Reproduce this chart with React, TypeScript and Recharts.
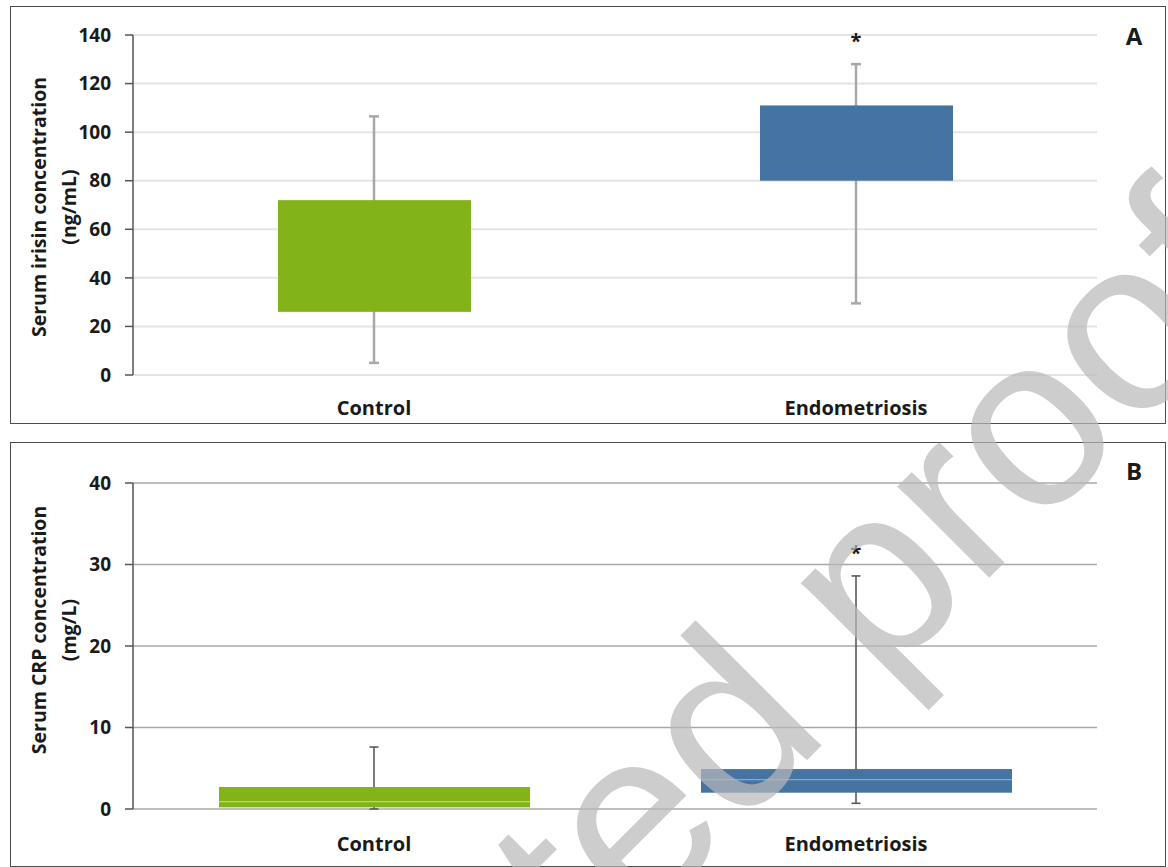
import React from "react";
import { BarChart, Bar, XAxis, YAxis, CartesianGrid, Cell } from "recharts";

// group names
const categories = ["Control", "Endometriosis"];

// panel A: serum irisin (ng/mL)
const irisinMin = [5, 29.5];
const irisinQ1 = [26, 80];
const irisinQ3 = [72, 111];
const irisinMax = [106.5, 128];
const irisinSig = ["", "*"];
const irisinTicks = [0, 20, 40, 60, 80, 100, 120, 140];

// panel B: serum CRP (mg/L)
const crpMin = [0, 0.7];
const crpQ1 = [0.2, 2.0];
const crpMedian = [0.9, 3.6];
const crpQ3 = [2.7, 4.9];
const crpMax = [7.6, 28.6];
const crpSig = ["", "*"];
const crpTicks = [0, 10, 20, 30, 40];

const boxColors = ["#82b41a", "#4574a3"];
const medianColors = ["#b8d870", "#8aa6c8"];

const FONT = "'Open Sans', 'DejaVu Sans', sans-serif";
const BOLD_TICK = { fill: "#1a1a1a", fontSize: 19, fontWeight: 700, fontFamily: FONT };
const CAT_TICK = { fill: "#1a1a1a", fontSize: 20, fontWeight: 700, fontFamily: FONT };

type Row = {
  name: string;
  whisk: [number, number];
  box: [number, number];
  q1: number;
  q3: number;
  median: number | null;
  sig: string;
};

const buildRows = (
  min: number[],
  q1: number[],
  median: (number | null)[] | null,
  q3: number[],
  max: number[],
  sig: string[]
): Row[] =>
  categories.map((name, i) => ({
    name,
    whisk: [min[i], max[i]],
    box: [q1[i], q3[i]],
    q1: q1[i],
    q3: q3[i],
    median: median ? median[i] : null,
    sig: sig[i],
  }));

const irisinRows = buildRows(irisinMin, irisinQ1, null, irisinQ3, irisinMax, irisinSig);
const crpRows = buildRows(crpMin, crpQ1, crpMedian, crpQ3, crpMax, crpSig);

const makeWhisker = (color: string, strokeWidth: number, capW: number) => (props: any) => {
  const { x, y, width, height, payload } = props;
  const cx = x + width / 2;
  return (
    <g>
      <line x1={cx} x2={cx} y1={y} y2={y + height} stroke={color} strokeWidth={strokeWidth} />
      <line x1={cx - capW / 2} x2={cx + capW / 2} y1={y} y2={y} stroke={color} strokeWidth={strokeWidth} />
      <line
        x1={cx - capW / 2}
        x2={cx + capW / 2}
        y1={y + height}
        y2={y + height}
        stroke={color}
        strokeWidth={strokeWidth}
      />
      {payload.sig ? (
        <text x={cx} y={y - 16} textAnchor="middle" fontSize={20} fontWeight={700} fontFamily={FONT} fill="#1a1a1a">
          {payload.sig}
        </text>
      ) : null}
    </g>
  );
};

const BoxShape = (props: any) => {
  const { x, y, width, height, payload, index, fill } = props;
  let median = null;
  if (payload.median != null && payload.q3 > payload.q1) {
    const ppu = height / (payload.q3 - payload.q1);
    const my = y + (payload.q3 - payload.median) * ppu;
    median = <line x1={x} x2={x + width} y1={my} y2={my} stroke={medianColors[index]} strokeWidth={1.2} />;
  }
  return (
    <g>
      <rect x={x} y={y} width={width} height={height} fill={fill} />
      {median}
    </g>
  );
};

type PanelProps = {
  rows: Row[];
  domain: [number, number];
  ticks: number[];
  width: number;
  height: number;
  margin: { top: number; right: number; bottom: number; left: number };
  boxSize: number;
  gridColor: string;
  gridWidth: number;
  whiskerColor: string;
  whiskerWidth: number;
  capW: number;
  labelMargin: number;
};

const Panel = (p: PanelProps) => (
  <BarChart width={p.width} height={p.height} data={p.rows} margin={p.margin}>
    <CartesianGrid
      xAxisId="box"
      vertical={false}
      stroke={p.gridColor}
      strokeWidth={p.gridWidth}
    />
    <XAxis
      xAxisId="frame"
      type="number"
      domain={[0, 2]}
      ticks={[0, 1, 2]}
      allowDataOverflow
      height={0}
      tick={false}
      tickSize={7}
      axisLine={{ stroke: "#555555", strokeWidth: 1.5 }}
      tickLine={{ stroke: "#555555", strokeWidth: 1.5 }}
    />
    <XAxis
      xAxisId="box"
      dataKey="name"
      height={45}
      axisLine={false}
      tickLine={false}
      tickMargin={p.labelMargin}
      tick={CAT_TICK}
    />
    <XAxis xAxisId="whisk" dataKey="name" hide />
    <YAxis
      domain={p.domain}
      ticks={p.ticks}
      interval={0}
      width={60}
      tickSize={8}
      tickMargin={14}
      tick={BOLD_TICK}
      axisLine={{ stroke: "#555555", strokeWidth: 1.5 }}
      tickLine={{ stroke: "#555555", strokeWidth: 1.5 }}
    />
    <Bar
      xAxisId="whisk"
      dataKey="whisk"
      barSize={12}
      isAnimationActive={false}
      shape={makeWhisker(p.whiskerColor, p.whiskerWidth, p.capW)}
    />
    <Bar xAxisId="box" dataKey="box" barSize={p.boxSize} isAnimationActive={false} shape={BoxShape}>
      {p.rows.map((r, i) => (
        <Cell key={r.name} fill={boxColors[i]} />
      ))}
    </Bar>
  </BarChart>
);

const frame = (left: number, top: number, w: number, h: number): React.CSSProperties => ({
  position: "absolute",
  left,
  top,
  width: w,
  height: h,
  border: "1.5px solid #4d4d4d",
  boxSizing: "border-box",
  pointerEvents: "none",
});

export default function App() {
  return (
    <div
      style={{
        position: "absolute",
        left: 0,
        top: 0,
        width: 1168,
        height: 867,
        background: "#ffffff",
        overflow: "hidden",
        fontFamily: FONT,
      }}
    >
      <div style={{ position: "absolute", left: 10, top: 6 }}>
        <Panel
          rows={irisinRows}
          domain={[0, 140]}
          ticks={irisinTicks}
          width={1155}
          height={417}
          margin={{ top: 29, right: 68, bottom: 3, left: 63 }}
          boxSize={193}
          gridColor="#e4e4e4"
          gridWidth={2}
          whiskerColor="#a8a8a8"
          whiskerWidth={2.5}
          capW={10}
          labelMargin={20}
        />
      </div>
      <div style={{ position: "absolute", left: 10, top: 442 }}>
        <Panel
          rows={crpRows}
          domain={[0, 40]}
          ticks={crpTicks}
          width={1155}
          height={424}
          margin={{ top: 41, right: 68, bottom: 12, left: 63 }}
          boxSize={311}
          gridColor="#a8a8a8"
          gridWidth={1.5}
          whiskerColor="#5a5a5a"
          whiskerWidth={1.6}
          capW={9}
          labelMargin={22}
        />
      </div>
      <div style={frame(10, 6, 1156, 418)} />
      <div style={frame(10, 442, 1156, 425)} />
      <svg
        width={1168}
        height={867}
        style={{ position: "absolute", left: 0, top: 0, pointerEvents: "none" }}
      >
        <g fontFamily={FONT} fontWeight={700} fill="#1a1a1a">
          <text transform="translate(38 207) rotate(-90)" textAnchor="middle" dominantBaseline="central" fontSize={19.5}>
            Serum irisin concentration
          </text>
          <text transform="translate(68 207) rotate(-90)" textAnchor="middle" dominantBaseline="central" fontSize={19.5}>
            (ng/mL)
          </text>
          <text transform="translate(38 630) rotate(-90)" textAnchor="middle" dominantBaseline="central" fontSize={19.5}>
            Serum CRP concentration
          </text>
          <text transform="translate(68 630) rotate(-90)" textAnchor="middle" dominantBaseline="central" fontSize={19.5}>
            (mg/L)
          </text>
          <text x={1134} y={45} textAnchor="middle" fontSize={24}>
            A
          </text>
          <text x={1134} y={480} textAnchor="middle" fontSize={24}>
            B
          </text>
        </g>
        <g
          transform="rotate(-45 592 975)"
          fontFamily="'Liberation Sans', Arial, sans-serif"
          fontSize={245}
          fill="#b8b8b8"
          fillOpacity={0.7}
        >
          <text x={592} y={975} textAnchor="end">
            Uncorrec
          </text>
          <text x={592} y={975}>
            ted proofs
          </text>
        </g>
      </svg>
    </div>
  );
}
